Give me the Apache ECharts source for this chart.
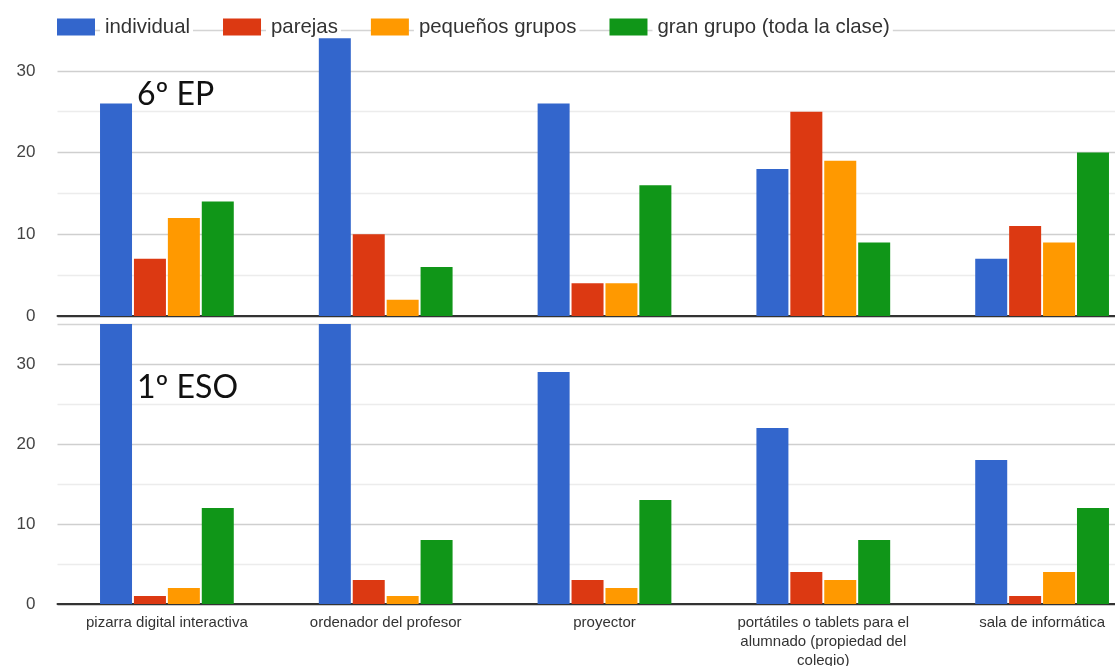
<!DOCTYPE html>
<html>
<head>
<meta charset="utf-8">
<script src="https://cdn.jsdelivr.net/npm/echarts@6/dist/echarts.min.js"></script>
<style>
html,body{margin:0;padding:0;background:#fff;}
#chart{width:1115px;height:666px;}
</style>
</head>
<body>
<div id="chart"></div>
<script>
const categories = ['pizarra digital interactiva', 'ordenador del profesor', 'proyector', 'portátiles o tablets para el alumnado (propiedad del colegio)', 'sala de informática'];
const seriesNames = ['individual', 'parejas', 'pequeños grupos', 'gran grupo (toda la clase)'];
const colors = ['#3366cc', '#dc3912', '#ff9900', '#109618'];
const panelTitles = ['6º EP', '1º ESO'];
const yTicks = [0, 10, 20, 30];

// 6º EP
const ep_individual = [26, 34, 26, 18, 7];
const ep_parejas = [7, 10, 4, 25, 11];
const ep_pequenos = [12, 2, 4, 19, 9];
const ep_gran = [14, 6, 16, 9, 20];

// 1º ESO (first two individual bars exceed the axis top and are clipped)
const eso_individual = [36, 36, 29, 22, 18];
const eso_parejas = [1, 3, 3, 4, 1];
const eso_pequenos = [2, 1, 2, 3, 4];
const eso_gran = [12, 8, 13, 8, 12];

const epData = [ep_individual, ep_parejas, ep_pequenos, ep_gran];
const esoData = [eso_individual, eso_parejas, eso_pequenos, eso_gran];

const chart = echarts.init(document.getElementById('chart'), null, {renderer: 'canvas'});

const gridLineColors = ['#333', '#ececec', '#cfcfcf', '#ececec', '#cfcfcf', '#ececec', '#cfcfcf', '#d4d4d4'];

function yAxis(gridIndex) {
  return {
    type: 'value', gridIndex: gridIndex, min: 0, max: 35, interval: 5,
    axisLine: {show: false}, axisTick: {show: false},
    axisLabel: {
      margin: 22, fontSize: 17, color: '#444', fontFamily: 'Liberation Sans, Arial',
      formatter: function (v) { return yTicks.indexOf(v) >= 0 ? String(v) : ''; }
    },
    splitLine: {show: true, lineStyle: {color: gridLineColors, width: 1.3}}
  };
}

function xAxis(gridIndex, showLabels) {
  return {
    type: 'category', gridIndex: gridIndex, data: categories,
    axisTick: {show: false},
    axisLine: {show: true, lineStyle: {color: '#333', width: 2}},
    axisLabel: {
      show: showLabels, interval: 0, margin: 9, fontSize: 15, lineHeight: 19,
      color: '#333', fontFamily: 'Liberation Sans, Arial',
      width: 180, overflow: 'break'
    }
  };
}

const series = [];
[epData, esoData].forEach(function (panel, p) {
  panel.forEach(function (vals, i) {
    series.push({
      name: seriesNames[i], type: 'bar', xAxisIndex: p, yAxisIndex: p,
      data: vals, barWidth: 32, barGap: '6%', clip: true,
      itemStyle: {color: colors[i]},
      emphasis: {disabled: true}
    });
  });
});

chart.setOption({
  animation: false,
  color: colors,
  grid: [
    {left: 57.5, top: 30, width: 1094, height: 286, containLabel: false, outerBoundsMode: 'none'},
    {left: 57.5, top: 324, width: 1094, height: 280, containLabel: false, outerBoundsMode: 'none'}
  ],
  title: [
    {text: panelTitles[0], left: 137, top: 79, padding: 0,
     textStyle: {fontSize: 32, fontWeight: 'normal', color: '#111', fontFamily: 'Lato'}},
    {text: panelTitles[1], left: 137, top: 372, padding: 0,
     textStyle: {fontSize: 32, fontWeight: 'normal', color: '#111', fontFamily: 'Lato'}}
  ],
  legend: {
    left: 57, top: 17, padding: 0, itemWidth: 38, itemHeight: 17, itemGap: 30,
    icon: 'rect', selectedMode: false,
    data: seriesNames,
    textStyle: {
      fontSize: 20.4, color: '#333', fontFamily: 'Liberation Sans, Arial',
      backgroundColor: '#fff', padding: [0, 3, 0, 5]
    }
  },
  xAxis: [xAxis(0, false), xAxis(1, true)],
  yAxis: [yAxis(0), yAxis(1)],
  series: series
});
</script>
</body>
</html>
